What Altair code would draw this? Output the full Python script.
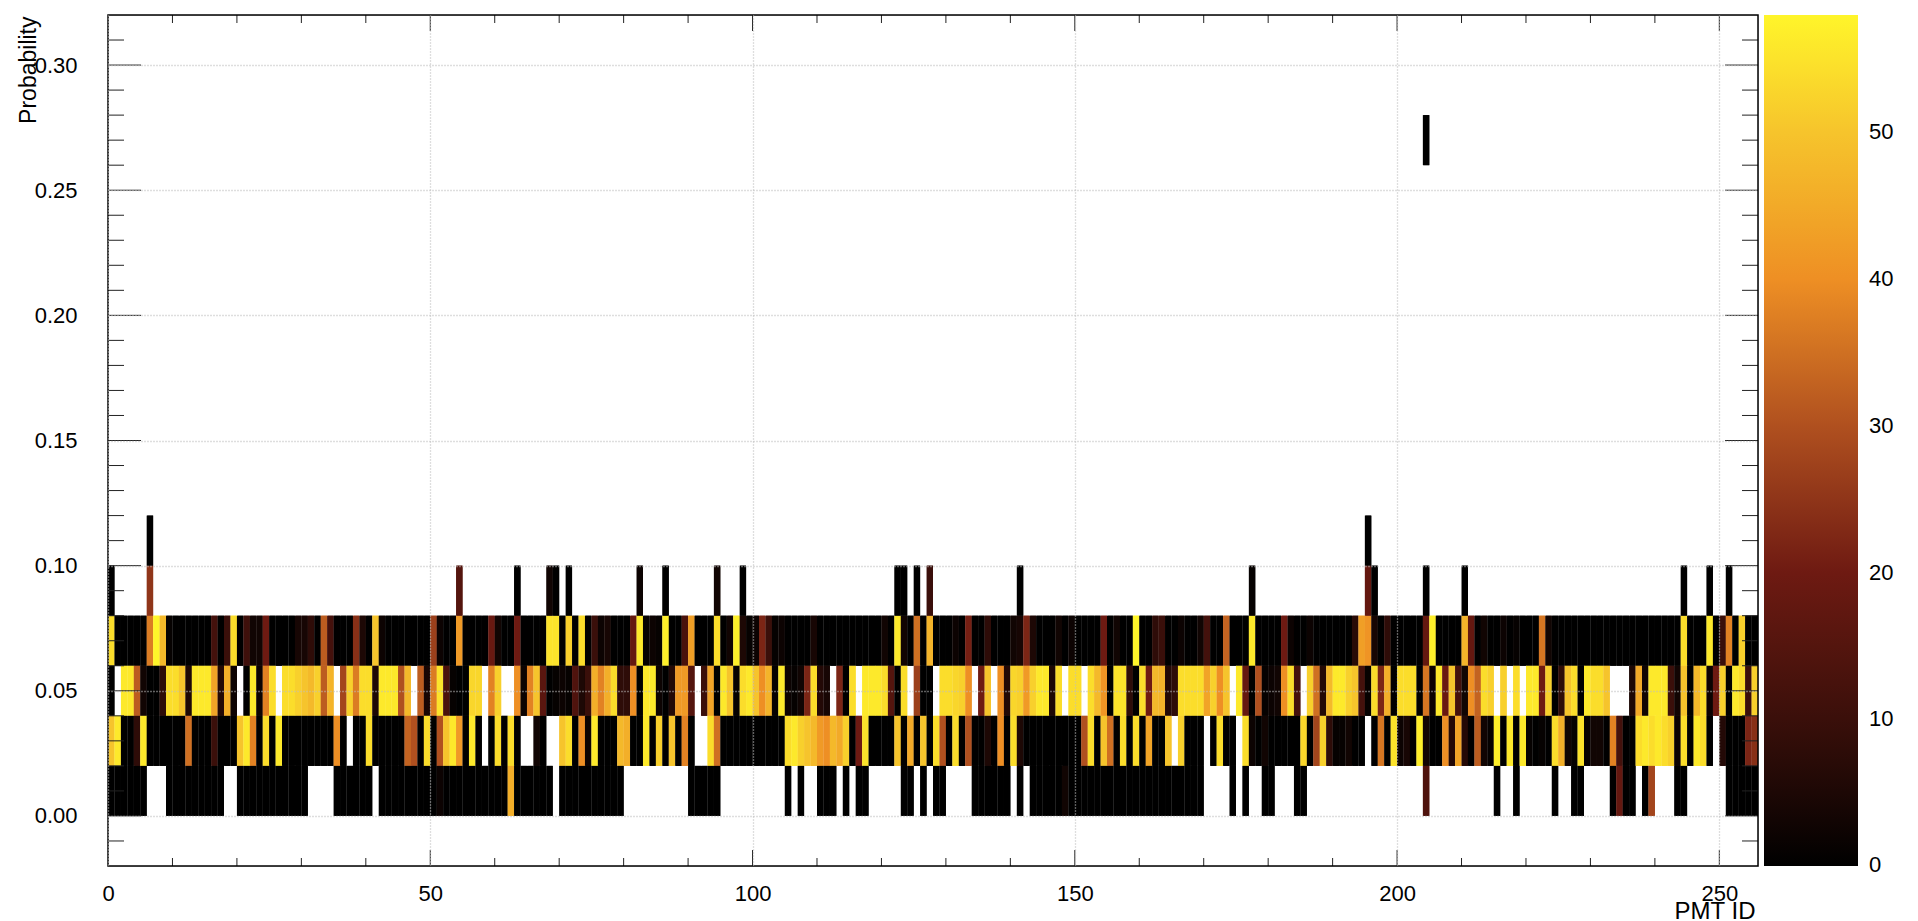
import altair as alt
import pandas as pd

alt.data_transformers.disable_max_rows()

N_COLS = 256
FONT = "Liberation Sans"

# column: occupancy for each probability bin (columns not listed are 0 in the full rows)
row_060_080 = {0:54,6:37,7:58,8:48,9:1,16:12,18:10,19:54,21:11,22:3,23:3,24:20,29:4,30:4,31:8,33:32,34:12,38:24,39:5,41:50,42:2,
    50:27,51:2,54:42,59:19,60:3,63:20,68:55,69:55,71:52,73:54,75:10,76:2,77:4,81:18,82:56,83:1,84:2,85:1,86:57,89:13,90:43,94:54,96:3,97:57,98:5,99:1,
    100:2,101:22,102:10,103:1,104:2,109:4,120:3,122:56,123:3,125:35,127:47,131:2,133:21,136:8,140:3,141:4,142:22,143:5,147:3,149:2,
    154:20,156:3,159:58,162:8,163:10,166:2,169:3,170:12,173:33,177:56,182:20,183:2,186:2,193:7,194:43,195:41,196:4,198:8,
    204:18,205:57,210:47,211:18,213:3,216:2,218:1,222:36,223:3,244:54,248:56,250:10,251:38,253:52}

row_040_060 = {2:56,3:56,4:32,5:3,8:8,9:54,10:54,11:50,12:5,13:56,14:56,15:56,16:44,17:6,18:46,19:2,22:56,23:2,24:38,25:54,27:54,28:54,29:52,30:50,31:48,32:52,33:32,34:47,
    36:28,37:52,38:37,39:54,40:54,41:5,42:56,43:56,44:56,45:30,46:48,48:32,49:4,50:37,51:55,52:13,53:1,56:53,57:53,59:38,60:52,63:40,64:2,65:38,66:50,67:16,69:1,70:2,71:1,72:14,73:5,74:10,75:46,76:38,77:46,78:54,79:8,80:8,81:40,
    83:56,84:56,85:2,87:6,88:42,89:42,90:15,92:10,93:44,95:56,96:50,97:1,98:54,99:56,100:50,101:40,102:47,103:1,104:56,105:2,106:1,107:3,108:22,109:54,110:6,111:4,113:22,115:54,117:56,118:56,119:56,120:54,121:15,123:54,125:27,
    129:54,130:54,131:53,132:52,133:40,135:20,136:50,138:40,139:6,140:53,141:52,142:42,143:52,144:56,145:56,146:5,147:54,149:54,150:54,152:54,153:48,154:41,156:55,157:55,158:8,160:54,161:20,162:48,163:47,164:6,165:8,166:54,167:54,168:54,169:54,170:44,171:52,172:40,173:50,175:56,176:18,178:30,179:1,180:2,181:3,182:40,183:54,184:12,
    186:52,187:35,188:6,189:48,190:56,191:56,192:52,193:50,194:12,195:1,196:54,197:22,198:46,200:54,201:54,202:54,204:36,205:2,206:56,207:19,208:50,209:12,210:3,211:40,212:33,213:54,214:52,216:52,218:54,220:56,221:56,222:20,223:52,225:8,226:50,227:54,229:56,230:54,231:54,
    232:50,236:5,237:45,238:3,239:56,240:56,241:56,242:10,243:3,244:50,246:48,247:54,248:2,249:20,250:52,252:56,253:54,254:10,255:52}
missing_040_060 = [1,20,26,35,47,58,61,62,91,112,116,124,128,134,137,148,151,174,185,215,217,219,233,234,235]

row_020_040 = {0:50,1:56,4:8,5:56,12:35,16:10,20:50,21:56,22:38,24:54,26:56,35:40,40:54,46:33,47:30,49:54,51:30,52:50,53:56,54:42,56:56,60:54,62:54,66:3,70:50,71:54,73:40,74:2,75:56,79:48,80:46,83:56,85:52,87:50,89:38,93:54,94:35,
    105:54,106:56,107:52,108:50,109:48,110:42,111:40,112:48,113:45,114:52,116:20,117:55,122:50,124:45,126:50,128:54,129:30,131:54,133:30,136:5,138:40,140:54,141:5,151:30,152:54,154:50,155:35,157:54,159:54,161:44,164:50,166:52,172:54,176:54,177:2,179:3,
    185:53,187:28,188:52,189:8,190:1,191:1,192:3,196:0,197:36,199:55,200:2,201:4,203:57,204:3,207:40,208:6,209:44,210:6,212:32,213:3,214:1,215:57,217:56,219:56,220:1,222:1,224:54,225:46,226:3,227:1,228:55,229:1,230:3,231:3,
    233:38,234:12,237:54,238:56,239:54,240:56,241:54,242:52,243:2,244:54,246:56,247:54,250:6,254:22,255:24}
missing_020_040 = [37,58,64,65,68,69,91,92,165,170,175,195,249]

# black columns of the lowest bin, with the few that are not black
cols_000_020 = [0,1,2,3,4,5,9,10,11,12,13,14,15,16,17,20,21,22,23,24,25,26,27,28,29,30,35,36,37,38,39,40,
    42,43,44,45,46,47,48,49,50,51,52,53,54,55,56,57,58,59,60,61,62,63,64,65,66,67,68,70,71,72,73,74,75,76,77,78,79,
    90,91,92,93,94,105,107,110,111,112,114,116,117,123,124,126,128,129,134,135,136,137,138,139,141,
    143,144,145,146,147,148,149,150,151,152,153,154,155,156,157,158,159,160,161,162,163,164,165,166,167,168,169,
    174,176,179,180,184,185,204,215,218,224,227,228,233,234,235,236,238,239,243,244,251,252,253,254,255]
vals_000_020 = {62:46,204:14,234:18,239:28,51:2,140:1,148:3}

row_080_100 = {0:0,6:25,54:15,63:0,68:3,69:0,71:0,82:2,86:0,94:3,98:0,122:0,123:0,125:0,127:10,141:0,177:1,195:18,196:0,204:0,210:0,244:0,248:0,251:0}
row_100_120 = {6:0,195:0}
row_260_280 = {204:0}

cbar_stops = [0, 10, 20, 30, 40, 50, 58]
cbar_colors = ["#000000", "#3a0f0a", "#6e1a12", "#b0501f", "#ee8f24", "#f6c42c", "#fff52a"]
cbar_labels = [0.05, 10, 20, 30, 40, 50]

x_major = [0, 50, 100, 150, 200, 250]
x_minor = [10,20,30,40,60,70,80,90,110,120,130,140,160,170,180,190,210,220,230,240]
y_major = [0.00, 0.05, 0.10, 0.15, 0.20, 0.25, 0.30]
y_minor = [-0.01,0.01,0.02,0.03,0.04,0.06,0.07,0.08,0.09,0.11,0.12,0.13,0.14,0.16,0.17,0.18,0.19,0.21,0.22,0.23,0.24,0.26,0.27,0.28,0.29,0.31]

rows = []
def add(lo, hi, col, val):
    rows.append({"c": col, "c2": col + 1, "p": lo, "p2": hi, "n": val})

for c in range(N_COLS):
    add(0.06, 0.08, c, row_060_080.get(c, 0))
    if c not in missing_040_060:
        add(0.04, 0.06, c, row_040_060.get(c, 0))
    if c not in missing_020_040:
        add(0.02, 0.04, c, row_020_040.get(c, 0))
for c in cols_000_020:
    add(0.00, 0.02, c, vals_000_020.get(c, 0))
for c, v in row_080_100.items():
    add(0.08, 0.10, c, v)
for c, v in row_100_120.items():
    add(0.10, 0.12, c, v)
for c, v in row_260_280.items():
    add(0.26, 0.28, c, v)
df = pd.DataFrame(rows)

W, H = 1650, 851
xs = alt.Scale(domain=[0, N_COLS], nice=False, zero=False)
ys = alt.Scale(domain=[-0.02, 0.32], nice=False, zero=False)
cs = alt.Scale(domain=cbar_stops, range=cbar_colors, clamp=True, interpolate="rgb")

enc = dict(
    x=alt.X("c:Q", scale=xs, axis=alt.Axis(
        values=x_major, format="d", grid=True, gridColor="#bdbdbd", gridDash=[1, 2], gridWidth=1.3, gridOpacity=1,
        ticks=False, domain=False, labelFontSize=22, labelFont=FONT, labelColor="#000", labelPadding=17, labelOverlap=False,
        labelFlush=False,
        title="PMT ID", titleFont=FONT, titleFontSize=24, titleFontWeight="normal", titleColor="#000",
        titleAnchor="end", titleAlign="right", titleBaseline="alphabetic", titleX=W - 3, titleY=52, zindex=1)),
    x2="c2:Q",
    y=alt.Y("p:Q", scale=ys, axis=alt.Axis(
        values=y_major, format=".2f", grid=True, gridColor="#bdbdbd", gridDash=[1, 2], gridWidth=1.3, gridOpacity=1,
        ticks=False, domain=False, labelFontSize=22, labelFont=FONT, labelColor="#000", labelPadding=31,
        title="Probability", titleFont=FONT, titleFontSize=23, titleFontWeight="normal", titleColor="#000",
        titleAngle=270, titleAlign="right", titleBaseline="alphabetic", titleX=-73, titleY=1, zindex=1)),
    y2="p2:Q",
    color=alt.Color("n:Q", scale=cs, legend=alt.Legend(
        type="gradient", orient="none", legendX=1656, legendY=0, gradientLength=H, gradientThickness=94, title=None,
        values=cbar_labels, format=".0f", labelFont=FONT, labelFontSize=22, labelColor="#000", labelOffset=11,
        labelBaseline="middle", labelOverlap=False, padding=0, gradientStrokeWidth=0)),
)

# the same cells drawn twice, the lower copy nudged a fraction of a pixel so that no seams show between neighbours
underlay = alt.Chart(df).mark_rect(strokeWidth=0, xOffset=0.5).encode(**enc)
cells = alt.Chart(df).mark_rect(strokeWidth=0).encode(**enc)

def xticks(vals, length):
    d = pd.DataFrame({"v": vals})
    base = alt.Chart(d).mark_rule(color="#222", strokeWidth=1)
    return (base.encode(x=alt.X("v:Q", scale=xs), y=alt.value(H), y2=alt.value(H - length))
            + base.encode(x=alt.X("v:Q", scale=xs), y=alt.value(0), y2=alt.value(length)))

def yticks(vals, length):
    d = pd.DataFrame({"v": vals})
    base = alt.Chart(d).mark_rule(color="#222", strokeWidth=1)
    return (base.encode(y=alt.Y("v:Q", scale=ys), x=alt.value(0), x2=alt.value(length))
            + base.encode(y=alt.Y("v:Q", scale=ys), x=alt.value(W), x2=alt.value(W - length)))

frame = alt.Chart(pd.DataFrame({"v": [0]})).mark_rect(filled=False, stroke="#000", strokeWidth=1.5).encode(
    x=alt.value(0), x2=alt.value(W), y=alt.value(0), y2=alt.value(H))

chart = alt.layer(
    underlay, cells, xticks(x_major[1:], 16), xticks(x_minor, 8), yticks(y_major, 33), yticks(y_minor, 16), frame
).properties(
    width=W, height=H,
    autosize=alt.AutoSizeParams(type="none"),
    padding={"left": 100, "top": 7, "right": 142, "bottom": 55},
).configure_view(stroke=None).configure(background="white")

chart.save("out.html", embed_options={"renderer": "svg", "actions": False})
